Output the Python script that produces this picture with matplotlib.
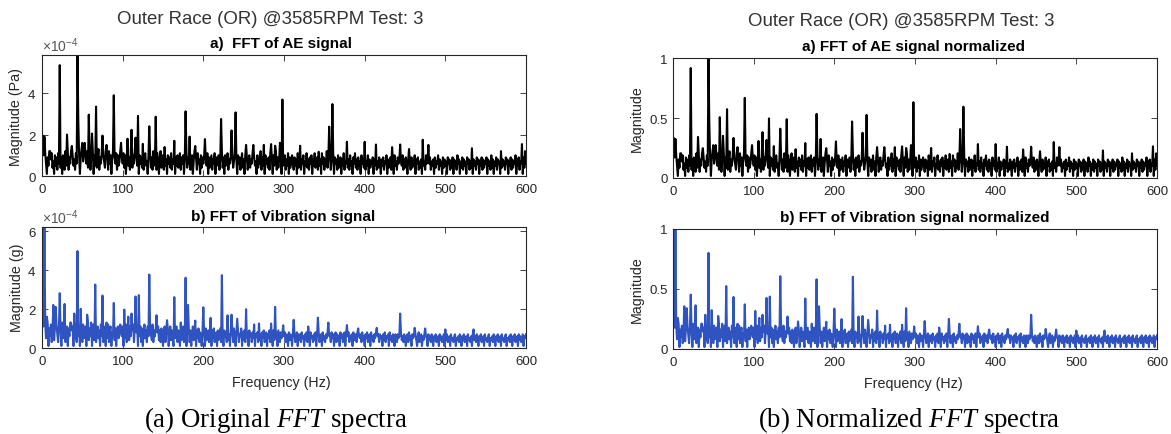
import numpy as np
import matplotlib
matplotlib.use("Agg")
import matplotlib.pyplot as plt
from matplotlib.ticker import ScalarFormatter, FuncFormatter

# ---------------- data ----------------
freq_hz = list(range(0, 601))  # 1 Hz bins, 0..600 Hz

# AE noise floor, units of 1e-5 Pa (one value per Hz)
ae_floor_1e5 = [
    12, 4, 10, 3, 11, 6, 1, 9, 5, 12, 3, 8, 11, 4, 7, 1, 10, 5, 9, 3,
    11, 6, 13, 4, 9, 1, 10, 7, 3, 12, 5, 8, 11, 3, 9, 6, 12, 4, 10, 5,
    8, 3, 11, 6, 12, 4, 10, 1, 9, 13, 5, 7, 11, 3, 10, 6, 12, 4, 8, 11,
    3, 9, 6, 12, 1, 10, 5, 11, 4, 8, 13, 3, 9, 6, 11, 1, 10, 7, 4, 12,
    5, 9, 3, 11, 6, 10, 1, 8, 12, 4, 9, 6, 11, 3, 10, 5, 7, 12, 1, 9,
    6, 11, 4, 10, 1, 8, 13, 5, 9, 3, 11, 7, 4, 10, 6, 12, 3, 9, 5, 11,
    1, 10, 6, 9, 4, 12, 3, 8, 11, 5, 7, 1, 10, 6, 11, 4, 9, 3, 12, 5,
    8, 10, 3, 11, 6, 1, 9, 12, 4, 7, 10, 3, 11, 5, 8, 1, 10, 6, 9, 4,
    11, 3, 8, 6, 12, 1, 9, 5, 10, 4, 7, 11, 3, 9, 6, 10, 1, 8, 5, 12,
    4, 9, 6, 11, 3, 8, 10, 1, 7, 12, 5, 9, 3, 11, 6, 8, 1, 10, 4, 9,
    6, 10, 3, 8, 5, 11, 1, 9, 4, 7, 10, 3, 8, 6, 11, 1, 9, 5, 7, 10,
    3, 8, 6, 12, 4, 9, 1, 10, 5, 7, 11, 3, 8, 6, 10, 1, 9, 4, 7, 11,
    5, 8, 1, 10, 6, 9, 3, 7, 11, 4, 8, 1, 10, 5, 9, 3, 7, 10, 4, 8,
    6, 11, 3, 9, 5, 7, 1, 10, 4, 8, 6, 12, 3, 9, 5, 7, 1, 10, 6, 8,
    4, 9, 3, 11, 6, 8, 1, 10, 5, 7, 12, 3, 9, 4, 8, 6, 11, 1, 9, 5,
    7, 10, 3, 8, 5, 11, 1, 9, 4, 7, 10, 6, 3, 9, 5, 8, 1, 11, 4, 7,
    9, 3, 8, 6, 10, 1, 7, 5, 11, 4, 8, 3, 9, 6, 10, 1, 8, 5, 11, 4,
    7, 9, 3, 10, 5, 8, 1, 11, 6, 9, 3, 8, 5, 12, 4, 9, 6, 10, 3, 8,
    5, 11, 1, 9, 6, 8, 3, 10, 4, 7, 9, 1, 8, 5, 11, 3, 7, 6, 9, 4,
    8, 3, 10, 5, 7, 1, 9, 6, 11, 4, 8, 3, 9, 5, 7, 1, 10, 6, 8, 4,
    9, 3, 7, 5, 10, 1, 8, 4, 7, 6, 9, 1, 8, 5, 10, 3, 7, 4, 9, 6,
    1, 8, 5, 9, 3, 7, 6, 10, 1, 8, 4, 7, 9, 3, 6, 8, 1, 10, 5, 7,
    3, 9, 6, 8, 1, 7, 5, 10, 3, 8, 4, 9, 6, 1, 8, 5, 7, 3, 9, 4,
    7, 5, 10, 1, 8, 6, 9, 3, 7, 4, 8, 1, 9, 5, 7, 3, 10, 6, 8, 1,
    6, 9, 3, 7, 5, 8, 1, 9, 4, 7, 6, 10, 3, 8, 5, 7, 1, 9, 4, 8,
    5, 7, 1, 9, 6, 8, 3, 7, 4, 9, 1, 8, 5, 7, 3, 10, 6, 8, 1, 7,
    4, 9, 3, 8, 5, 7, 1, 9, 6, 8, 3, 7, 4, 10, 1, 8, 5, 7, 3, 9,
    6, 8, 1, 7, 5, 9, 3, 8, 4, 7, 6, 9, 1, 8, 5, 7, 3, 10, 4, 8,
    1, 7, 5, 9, 3, 8, 6, 7, 1, 9, 4, 8, 5, 7, 3, 9, 6, 8, 1, 7,
    5, 9, 3, 8, 4, 7, 6, 10, 1, 8, 5, 9, 3, 7, 6, 8, 1, 9, 4, 11,
    6,
]

# AE spectral peaks: frequency (Hz) and magnitude (1e-4 Pa)
ae_peak_hz = [1, 3, 10, 22, 31, 37, 44, 45, 50, 53, 58, 62, 67, 75, 80, 83, 89, 98,
              106, 111, 116, 119, 125, 133, 141, 152, 164, 178, 183, 190, 202, 222,
              235, 240, 253, 262, 275, 284, 289, 295, 298, 320, 343, 356, 360, 378,
              400, 414, 434, 444, 455, 472, 479, 533, 569, 595, 599]
ae_peak_val = [1.95, 1.9, 1.2, 5.35, 2.0, 1.45, 5.84, 2.7, 1.6, 1.6, 2.96, 2.05, 3.35,
               1.95, 1.5, 1.2, 3.9, 1.6, 1.8, 2.23, 1.85, 2.9, 1.55, 2.4, 2.86, 1.4,
               1.7, 3.12, 1.9, 1.45, 1.78, 2.75, 2.2, 3.07, 1.5, 1.5, 1.5, 1.54, 1.46,
               1.6, 3.69, 1.46, 1.17, 2.38, 3.47, 1.65, 1.65, 1.52, 1.39, 1.52, 1.3,
               1.75, 1.5, 1.34, 1.2, 1.54, 1.2]

# Vibration noise floor, units of 1e-5 g (one value per Hz)
vib_floor_1e5 = [
    14, 3, 11, 1, 12, 5, 9, 13, 1, 10, 6, 12, 3, 9, 11, 4, 10, 1, 12, 7,
    3, 11, 6, 10, 1, 13, 5, 9, 12, 3, 8, 11, 1, 10, 6, 13, 4, 9, 11, 1,
    10, 5, 12, 3, 9, 6, 11, 1, 10, 7, 3, 12, 5, 9, 11, 1, 8, 13, 4, 10,
    6, 11, 1, 9, 12, 4, 10, 3, 8, 11, 5, 9, 1, 12, 6, 10, 3, 11, 7, 1,
    10, 5, 12, 3, 9, 11, 1, 8, 6, 12, 4, 10, 1, 9, 11, 5, 7, 3, 10, 6,
    11, 1, 9, 5, 12, 3, 8, 10, 4, 11, 6, 1, 9, 12, 3, 10, 5, 8, 11, 1,
    9, 6, 11, 3, 10, 1, 8, 12, 5, 9, 3, 11, 6, 1, 10, 7, 4, 12, 3, 9,
    6, 10, 1, 8, 11, 4, 9, 3, 10, 6, 1, 9, 11, 3, 8, 5, 10, 1, 7, 11,
    4, 9, 6, 1, 10, 5, 8, 11, 3, 9, 6, 1, 10, 4, 8, 11, 3, 7, 9, 1,
    8, 5, 10, 3, 9, 1, 7, 11, 4, 8, 6, 1, 9, 5, 10, 3, 8, 6, 1, 9,
    5, 8, 1, 10, 4, 7, 9, 3, 8, 6, 1, 9, 5, 10, 3, 7, 8, 1, 9, 4,
    7, 10, 3, 8, 5, 1, 9, 6, 8, 3, 10, 4, 7, 1, 9, 5, 8, 3, 10, 6,
    1, 8, 5, 9, 3, 7, 6, 10, 1, 8, 4, 9, 3, 7, 5, 8, 1, 9, 6, 7,
    3, 8, 5, 9, 1, 7, 6, 8, 3, 10, 4, 7, 1, 8, 5, 9, 3, 6, 8, 1,
    7, 5, 9, 3, 8, 6, 1, 9, 4, 7, 5, 8, 1, 9, 6, 3, 8, 5, 7, 1,
    6, 8, 3, 7, 5, 1, 8, 4, 7, 6, 1, 8, 5, 7, 3, 6, 8, 1, 7, 4,
    7, 3, 8, 5, 6, 1, 7, 4, 8, 3, 6, 7, 1, 8, 5, 6, 3, 7, 4, 8,
    1, 7, 5, 8, 3, 6, 7, 1, 8, 4, 6, 3, 7, 5, 8, 1, 6, 7, 3, 8,
    5, 7, 1, 6, 8, 3, 7, 4, 6, 1, 8, 5, 7, 3, 6, 8, 1, 7, 4, 6,
    8, 3, 6, 5, 7, 1, 8, 4, 6, 7, 3, 8, 1, 6, 5, 7, 3, 8, 4, 6,
    1, 7, 5, 8, 3, 6, 7, 1, 8, 4, 6, 3, 7, 5, 8, 1, 6, 7, 3, 7,
    5, 6, 1, 7, 4, 8, 3, 6, 5, 7, 1, 8, 4, 6, 3, 7, 5, 1, 7, 6,
    3, 7, 5, 6, 1, 8, 4, 6, 3, 7, 5, 1, 6, 7, 3, 8, 4, 6, 1, 7,
    5, 6, 3, 7, 4, 1, 6, 8, 3, 5, 7, 1, 6, 4, 7, 3, 6, 5, 1, 7,
    4, 6, 3, 7, 5, 1, 6, 4, 7, 3, 5, 6, 1, 7, 4, 6, 3, 5, 7, 1,
    6, 4, 7, 3, 5, 6, 1, 7, 4, 5, 3, 6, 7, 1, 5, 4, 6, 3, 7, 5,
    1, 6, 4, 7, 3, 5, 6, 1, 7, 4, 5, 3, 6, 1, 7, 5, 4, 6, 3, 7,
    5, 1, 6, 4, 7, 3, 5, 6, 1, 7, 4, 5, 3, 6, 7, 1, 5, 4, 6, 3,
    7, 5, 1, 6, 4, 7, 3, 5, 6, 1, 7, 4, 5, 3, 6, 7, 1, 5, 4, 6,
    3, 7, 5, 1, 6, 4, 7, 3, 5, 6, 1, 7, 4, 6, 3, 5, 7, 1, 6, 5,
    7,
]

# Vibration spectral peaks: frequency (Hz) and magnitude (1e-4 g)
vib_peak_hz = [1, 3, 6, 14, 17, 22, 28, 36, 40, 44, 48, 56, 61, 66, 75, 80, 89, 97,
               102, 107, 111, 116, 120, 133, 142, 155, 164, 172, 178, 181, 190, 200,
               209, 223, 230, 235, 242, 253, 263, 269, 284, 289, 299, 312, 330, 342,
               355, 378, 392, 415, 444, 462, 475, 500, 535]
vib_peak_val = [4.6, 6.18, 1.6, 2.2, 2.1, 2.8, 2.25, 1.3, 1.76, 4.95, 2.0, 1.7, 1.3,
                3.24, 2.68, 1.3, 2.3, 1.2, 1.96, 1.6, 1.76, 2.63, 2.7, 3.75, 1.67,
                1.42, 2.6, 1.3, 3.59, 2.2, 1.4, 2.08, 1.54, 3.72, 1.67, 1.7, 1.5,
                1.98, 1.2, 1.25, 1.25, 2.1, 1.16, 1.44, 1.1, 1.55, 1.3, 1.17, 1.0,
                1.03, 1.76, 1.03, 1.0, 0.95, 0.95]

main_title = "Outer Race (OR) @3585RPM Test: 3"
titles_left = ["a)  FFT of AE signal", "b) FFT of Vibration signal"]
titles_right = ["a) FFT of AE signal normalized", "b) FFT of Vibration signal normalized"]
ylabels_left = ["Magnitude (Pa)", "Magnitude (g)"]
ylabel_right = "Magnitude"
xlabel = "Frequency (Hz)"
captions = ["(a) Original $\\mathit{FFT}$ spectra", "(b) Normalized $\\mathit{FFT}$ spectra"]

# ---------------- build spectra ----------------
f = np.array(freq_hz, dtype=float)
ae = np.array(ae_floor_1e5, dtype=float) * 1e-5
for hz, v in zip(ae_peak_hz, ae_peak_val):
    ae[hz] = v * 1e-4
vib = np.array(vib_floor_1e5, dtype=float) * 1e-5
for hz, v in zip(vib_peak_hz, vib_peak_val):
    vib[hz] = v * 1e-4
ae_n = ae / ae.max()
vib_n = vib / vib.max()

# ---------------- style ----------------
plt.rcParams['font.family'] = ['Liberation Sans', 'DejaVu Sans']
plt.rcParams['mathtext.fontset'] = 'custom'
plt.rcParams['mathtext.rm'] = 'Liberation Sans'
plt.rcParams['mathtext.it'] = 'Liberation Sans:italic'

W, H = 1171, 435
fig = plt.figure(figsize=(W / 100, H / 100), dpi=100)

def px_axes(x0, x1, ytop, ybot):
    return fig.add_axes([x0 / W, 1 - ybot / H, (x1 - x0) / W, (ybot - ytop) / H])

AX_COL = '#262626'
AE_COLOR = 'black'
VIB_COLOR = '#2f54c1'
LW = 1.5

def style(ax, yticks, fmt=None):
    ax.set_xlim(0, 600)
    ax.set_xticks([0, 100, 200, 300, 400, 500, 600])
    ax.set_yticks(yticks)
    ax.tick_params(direction='in', length=4, width=0.6, colors=AX_COL,
                   labelsize=9.5, top=True, right=True)
    ax.tick_params(axis='x', pad=5)
    ax.tick_params(axis='y', pad=4)
    for s in ax.spines.values():
        s.set_color(AX_COL)
        s.set_linewidth(0.8)
    if fmt is not None:
        ax.yaxis.set_major_formatter(fmt)

ax1 = px_axes(42, 526, 56, 177)
ax1.plot(f, ae, color=AE_COLOR, lw=LW)
ax1.set_ylim(0, ae.max())
sf1 = ScalarFormatter(useMathText=True)
sf1.set_powerlimits((-3, 3))
style(ax1, [0, 2e-4, 4e-4], sf1)
ax1.yaxis.get_offset_text().set_fontsize(10)
ax1.yaxis.get_offset_text().set_color('#555555')

ax2 = px_axes(42, 526, 228, 349)
ax2.plot(f, vib, color=VIB_COLOR, lw=LW)
ax2.set_ylim(0, vib.max())
sf2 = ScalarFormatter(useMathText=True)
sf2.set_powerlimits((-3, 3))
style(ax2, [0, 2e-4, 4e-4, 6e-4], sf2)
ax2.yaxis.get_offset_text().set_fontsize(10)
ax2.yaxis.get_offset_text().set_color('#555555')

gfmt = FuncFormatter(lambda v, p: f"{v:g}")
ax3 = px_axes(673, 1157, 59, 179)
ax3.plot(f, ae_n, color=AE_COLOR, lw=LW)
ax3.set_ylim(0, 1)
style(ax3, [0, 0.5, 1], gfmt)

ax4 = px_axes(673, 1157, 230, 350)
ax4.plot(f, vib_n, color=VIB_COLOR, lw=LW)
ax4.set_ylim(0, 1)
style(ax4, [0, 0.5, 1], gfmt)

def ftext(x, y, s, **kw):
    fig.text(x / W, 1 - y / H, s, ha='center', va='center', **kw)

TCOL = '#262626'
ftext(270, 20, main_title, fontsize=13.4, color='#333333')
ftext(901, 21, main_title, fontsize=13.4, color='#333333')
ftext(281, 44, titles_left[0], fontsize=11, fontweight='bold', color='black')
ftext(283, 217, titles_left[1], fontsize=11, fontweight='bold', color='black')
ftext(914, 47, titles_right[0], fontsize=11, fontweight='bold', color='black')
ftext(915, 218, titles_right[1], fontsize=11, fontweight='bold', color='black')

ftext(16.5, 117, ylabels_left[0], fontsize=10.3, color=TCOL, rotation=90)
ftext(17.5, 288, ylabels_left[1], fontsize=10.3, color=TCOL, rotation=90)
ftext(637, 119, ylabel_right, fontsize=10.3, color=TCOL, rotation=90)
ftext(637, 290, ylabel_right, fontsize=10.3, color=TCOL, rotation=90)
ftext(281, 383, xlabel, fontsize=10.3, color=TCOL)
ftext(913, 384, xlabel, fontsize=10.3, color=TCOL)

cap_kw = dict(fontsize=19.3, color='black', family=['Liberation Serif', 'DejaVu Serif'])
plt.rcParams['mathtext.it'] = 'Liberation Serif:italic'
ftext(276, 420, captions[0], **cap_kw)
ftext(909, 420, captions[1], **cap_kw)

fig.savefig('out.png', dpi=100)
